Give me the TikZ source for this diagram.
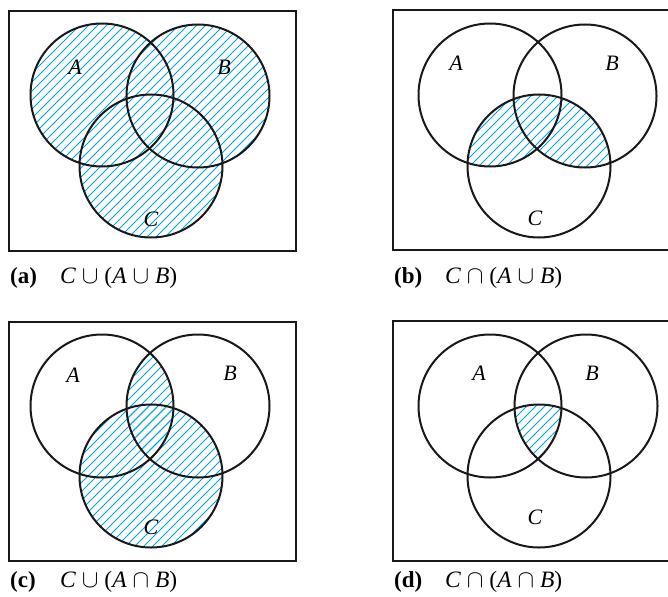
\documentclass[tikz,border=0pt]{standalone}
\usepackage{fontspec}
\setmainfont{Liberation Serif}
\definecolor{hatchblue}{RGB}{0,166,226}
% diagonal hatching, drawn inside a clip
\newcommand{\hatchlines}{%
  \foreach \h in {-612,-603,...,680}
    \draw[hatch] (\h,600) -- ++(600,-600);}

\begin{document}
\begin{tikzpicture}[x=1pt, y=-1pt,
  venn/.style={line width=2pt, black!90},
  frame/.style={line width=2.2pt, black!90},
  hatch/.style={draw=hatchblue, line width=1pt},
  setname/.style={font=\fontsize{22}{24}\selectfont\itshape},
  tag/.style={anchor=west, inner sep=0pt, font=\fontsize{23}{25}\selectfont\bfseries},
  setexpr/.style={anchor=west, inner sep=0pt, font=\fontsize{23.5}{25}\selectfont}]
  \useasboundingbox (0,0) rectangle (668,596);

  % Circle centres of the four panels
  \coordinate (aA) at (102,95);  \coordinate (aB) at (198,96);  \coordinate (aC) at (151,166);
  \coordinate (bA) at (490,95);  \coordinate (bB) at (585,96);  \coordinate (bC) at (539,166);
  \coordinate (cA) at (102,406); \coordinate (cB) at (198,406); \coordinate (cC) at (151,476);
  \coordinate (dA) at (490,406); \coordinate (dB) at (586,406); \coordinate (dC) at (539,476);

  % (a) C u (A u B): everything inside a circle
  \begin{scope}
    \clip (aA) circle[radius=71.5] (aB) circle[radius=71.5] (aC) circle[radius=71.5];
    \hatchlines
  \end{scope}

  % (b) C n (A u B)
  \begin{scope}
    \clip (bC) circle[radius=71.5];
    \clip (bA) circle[radius=71.5] (bB) circle[radius=71.5];
    \hatchlines
  \end{scope}

  % (c) C u (A n B): C itself, then the lens of A and B
  \begin{scope}
    \clip (cC) circle[radius=71.5];
    \hatchlines
  \end{scope}
  \begin{scope}
    \clip (cA) circle[radius=71.5];
    \clip (cB) circle[radius=71.5];
    \hatchlines
  \end{scope}

  % (d) C n (A n B)
  \begin{scope}
    \clip (dA) circle[radius=71.5];
    \clip (dB) circle[radius=71.5];
    \clip (dC) circle[radius=71.5];
    \hatchlines
  \end{scope}

  % Frames (panel b and d run off the right edge)
  \draw[frame] (9,11) rectangle (296,251);
  \draw[frame] (393,10) rectangle (680,250);
  \draw[frame] (9,322) rectangle (296,561);
  \draw[frame] (393,321) rectangle (680,561);

  % Circles
  \foreach \p in {a,b,c,d} {
    \draw[venn] (\p A) circle[radius=71.5];
    \draw[venn] (\p B) circle[radius=71.5];
    \draw[venn] (\p C) circle[radius=71.5];
  }

  % Set names
  \node[setname] (nameaA) at (75,67)   {A};
  \node[setname] (nameaB) at (224,67)  {B};
  \node[setname] (nameaC) at (151,219) {C};
  \node[setname] (namebA) at (456,63)  {A};
  \node[setname] (namebB) at (612,63)  {B};
  \node[setname] (namebC) at (535,218) {C};
  \node[setname] (namecA) at (73,375)  {A};
  \node[setname] (namecB) at (230,373) {B};
  \node[setname] (namecC) at (151,527) {C};
  \node[setname] (namedA) at (479,373) {A};
  \node[setname] (namedB) at (592,373) {B};
  \node[setname] (namedC) at (535,517) {C};

  % Captions
  \node[tag] (taga) at (10,278)  {(a)};
  \node[setexpr] (expra) at (60,278)  {\textit{C} $\cup$ (\textit{A} $\cup$ \textit{B})};
  \node[tag] (tagb) at (394,278) {(b)};
  \node[setexpr] (exprb) at (445,278) {\textit{C} $\cap$ (\textit{A} $\cup$ \textit{B})};
  \node[tag] (tagc) at (10,582)  {(c)};
  \node[setexpr] (exprc) at (60,582)  {\textit{C} $\cup$ (\textit{A} $\cap$ \textit{B})};
  \node[tag] (tagd) at (394,582) {(d)};
  \node[setexpr] (exprd) at (445,582) {\textit{C} $\cap$ (\textit{A} $\cap$ \textit{B})};
\end{tikzpicture}
\end{document}
